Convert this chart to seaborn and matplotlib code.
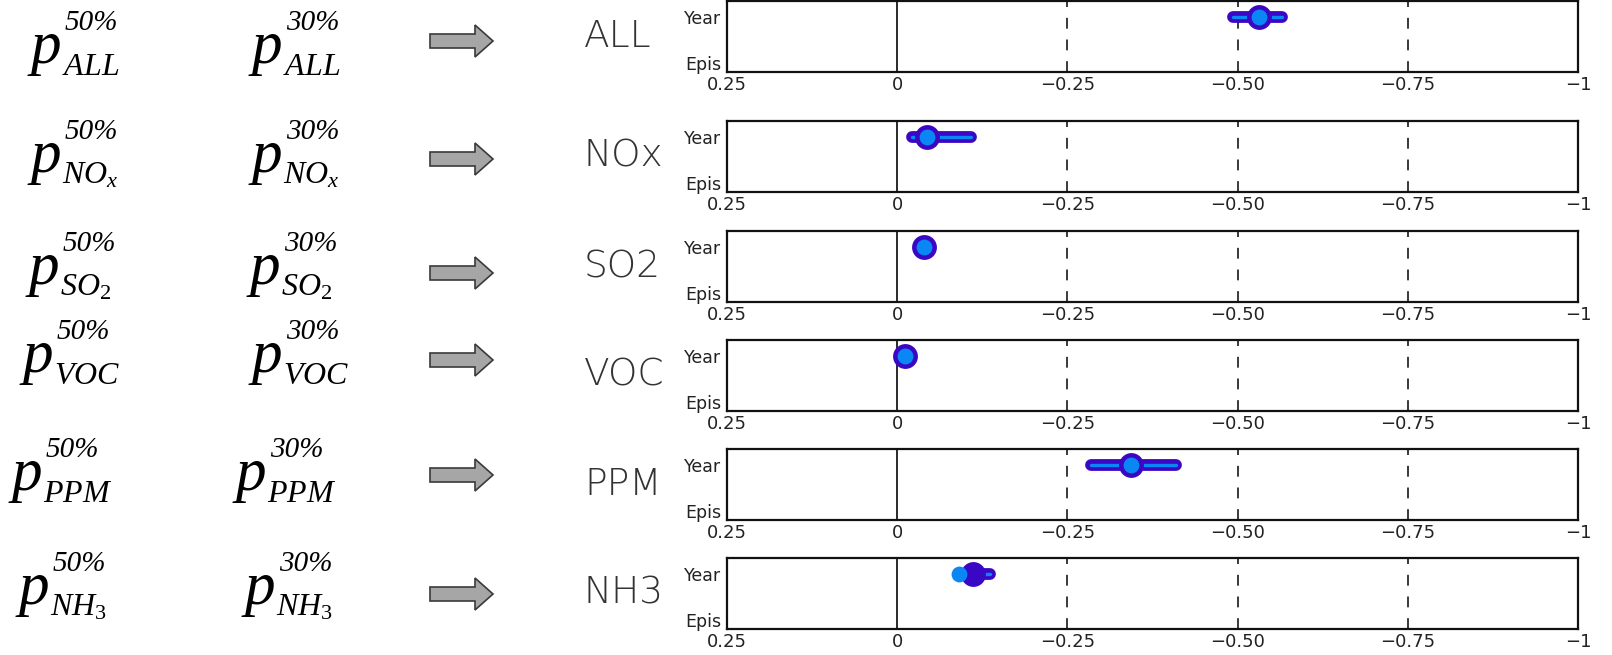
import numpy as np
import pandas as pd
import matplotlib
matplotlib.use("Agg")
import matplotlib.pyplot as plt
from matplotlib.patches import FancyArrow
import seaborn as sns

# Emission sectors and their reduction ranges
species = ["ALL", "NOx", "SO2", "VOC", "PPM", "NH3"]
sub_labels = [r"$\mathit{ALL}$", r"$\mathit{NO}_{\mathit{x}}$", r"$\mathit{SO}_{\mathit{2}}$",
              r"$\mathit{VOC}$", r"$\mathit{PPM}$", r"$\mathit{NH}_{\mathit{3}}$"]
range_low = [-0.493, -0.022, -0.037, -0.010, -0.284, -0.091]
range_high = [-0.565, -0.109, -0.043, -0.014, -0.409, -0.137]
range_mid = [-0.532, -0.044, -0.040, -0.012, -0.344, -0.112]
year_value = [-0.532, -0.044, -0.040, -0.012, -0.344, -0.091]
periods = ["Epis", "Year"]
x_ticks = [0.25, 0.0, -0.25, -0.50, -0.75, -1.0]
x_tick_labels = ["0.25", "0", "\u22120.25", "\u22120.50", "\u22120.75", "\u22121"]
pct_left = "50%"
pct_right = "30%"

DARK = "#3a08c4"
LIGHT = "#0a86f5"

sns.set_theme(style="white")
plt.rcParams["font.family"] = ["DejaVu Sans"]
plt.rcParams["mathtext.fontset"] = "custom"
plt.rcParams["mathtext.it"] = "Liberation Serif:italic"
plt.rcParams["mathtext.rm"] = "Liberation Serif"

W, H = 1612, 655
fig = plt.figure(figsize=(W / 100, H / 100), dpi=100)
fig.patch.set_facecolor("white")

panel_top = [1, 121, 231, 340, 449, 558]
panel_h = 71
panel_left = 727
panel_w = 851

for i, name in enumerate(species):
    ax = fig.add_axes([panel_left / W, 1 - (panel_top[i] + panel_h) / H, panel_w / W, panel_h / H])
    ax.set_facecolor("white")
    ax.axvline(0.0, color="#2a2a2a", lw=1.4, zorder=1)
    for v in (-0.25, -0.50, -0.75):
        ax.axvline(v, color="#2a2a2a", lw=1.3, ls=(0, (6, 6)), zorder=1)

    bar = pd.DataFrame({"x": [range_low[i], range_high[i]], "y": [1.0, 1.0]})
    sns.lineplot(data=bar, x="x", y="y", ax=ax, color=DARK, lw=8.5, sort=False,
                 estimator=None, solid_capstyle="round", legend=False, zorder=3)
    sns.lineplot(data=bar, x="x", y="y", ax=ax, color=LIGHT, lw=2.4, sort=False,
                 estimator=None, solid_capstyle="round", legend=False, zorder=4)
    sns.scatterplot(x=[range_mid[i]], y=[1.0], ax=ax, s=320, color=DARK,
                    linewidth=0, legend=False, zorder=5)
    sns.scatterplot(x=[year_value[i]], y=[1.0], ax=ax, s=130, color=LIGHT,
                    linewidth=0, legend=False, zorder=6)

    ax.set_xlim(0.25, -1.0)
    ax.set_ylim(-0.2, 1.35)
    ax.set_xticks(x_ticks)
    ax.set_xticklabels(x_tick_labels)
    ax.set_yticks([0, 1])
    ax.set_yticklabels(periods)
    ax.set_xlabel("")
    ax.set_ylabel("")
    ax.tick_params(axis="x", length=0, pad=3, labelsize=13, colors="#222222")
    ax.tick_params(axis="y", length=0, pad=4, labelsize=12.5, colors="#222222")
    for sp in ax.spines.values():
        sp.set_visible(True)
        sp.set_color("#111111")
        sp.set_linewidth(1.6)

    yc = 1 - (panel_top[i] + panel_h / 2) / H
    fig.text(584 / W, yc, name, fontsize=27, color="#333333", ha="left", va="center",
             fontweight="light")

# Left-hand symbol column drawn in pixel coordinates
over = fig.add_axes([0, 0, 1, 1], zorder=-1)
over.set_xlim(0, W)
over.set_ylim(H, 0)
over.axis("off")

arrow_y = [41, 159, 273, 360, 475, 594]
baseline_y = [63, 172, 284, 372, 490, 604]
col1_x = [31, 31, 29, 23, 12, 19]
col2_x = [252, 252, 250, 252, 236, 245]

def symbol(x0, yb, pct, sub):
    over.text(x0, yb, "p", fontsize=44, family="Liberation Serif", style="italic",
              ha="left", va="baseline", color="black")
    over.text(x0 + 34, yb - 33, pct, fontsize=21, family="Liberation Serif", style="italic",
              ha="left", va="baseline", color="black")
    over.text(x0 + 31, yb + 12, sub, fontsize=23, ha="left", va="baseline", color="black")

for i in range(len(species)):
    symbol(col1_x[i], baseline_y[i], pct_left, sub_labels[i])
    symbol(col2_x[i], baseline_y[i], pct_right, sub_labels[i])
    over.add_patch(FancyArrow(430, arrow_y[i], 63, 0, width=14, head_width=32, head_length=18,
                              length_includes_head=True, facecolor="#a6a6a6",
                              edgecolor="#3a3a3a", linewidth=1.2))

fig.savefig("out.png", dpi=100, facecolor="white")
